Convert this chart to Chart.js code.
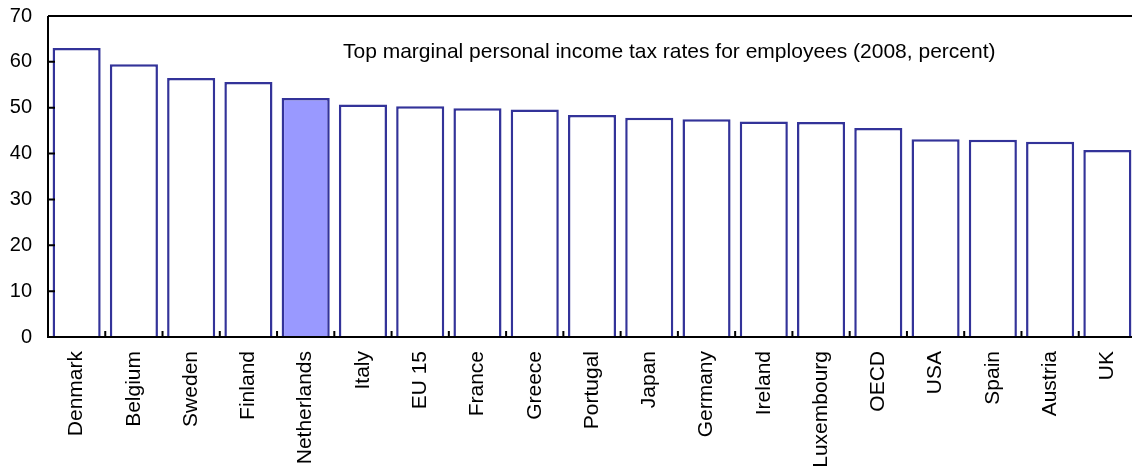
<!DOCTYPE html>
<html><head><meta charset="utf-8">
<script src="https://cdn.jsdelivr.net/npm/chart.js@4/dist/chart.umd.min.js"></script>
<style>html,body{margin:0;padding:0;background:#fff;overflow:hidden;width:1132px;height:472px}canvas{display:block}</style>
</head><body><canvas id="c" width="1136" height="472"></canvas>
<script>
const categories = ["Denmark","Belgium","Sweden","Finland","Netherlands","Italy","EU 15","France","Greece","Portugal","Japan","Germany","Ireland","Luxembourg","OECD","USA","Spain","Austria","UK"];
const taxRates = [63.0,59.5,56.5,55.6,52.1,50.7,50.3,49.9,49.6,48.4,47.8,47.5,47.0,46.9,45.6,43.1,43.0,42.6,40.8];
const highlight = "Netherlands";
const yTicks = [0,10,20,30,40,50,60,70];
const titleText = "Top marginal personal income tax rates for employees (2008, percent)";
const FONT = "'Liberation Sans', Arial, sans-serif";

const decor = {
  id:'decor',
  afterDraw(chart){
    const ctx = chart.ctx, a = chart.chartArea, y = chart.scales.y, x = chart.scales.x;
    ctx.save();
    ctx.strokeStyle = '#000'; ctx.lineWidth = 2;
    ctx.beginPath();
    ctx.moveTo(a.left, a.top); ctx.lineTo(a.right, a.top);
    ctx.moveTo(a.left, a.top); ctx.lineTo(a.left, a.bottom);
    ctx.moveTo(a.left - 1, a.bottom); ctx.lineTo(a.right, a.bottom);
    yTicks.forEach(v => { const py = y.getPixelForValue(v); ctx.moveTo(a.left, py); ctx.lineTo(a.left + 7, py); });
    for (let i = 1; i < categories.length; i++) {
      const px = (x.getPixelForValue(i - 1) + x.getPixelForValue(i)) / 2;
      ctx.moveTo(px, a.bottom); ctx.lineTo(px, a.bottom - 6);
    }
    ctx.stroke();
    ctx.fillStyle = '#000';
    ctx.font = '21px ' + FONT;
    ctx.textAlign = 'left'; ctx.textBaseline = 'middle';
    ctx.fillText(titleText, 343, 52);
    ctx.restore();
  }
};

new Chart(document.getElementById('c'), {
  type: 'bar',
  data: {
    labels: categories,
    datasets: [{
      data: taxRates,
      backgroundColor: categories.map(c => c === highlight ? '#9999ff' : '#ffffff'),
      borderColor: '#333399',
      borderWidth: 2.5,
      barPercentage: 0.84,
      categoryPercentage: 1.0
    }]
  },
  options: {
    responsive: false, animation: false,
    layout: { padding: { top: 16, right: 0, left: 0, bottom: 0 } },
    plugins: { legend: { display: false }, tooltip: { enabled: false }, title: { display: false } },
    scales: {
      x: {
        grid: { display: false, drawTicks: false },
        border: { display: false },
        ticks: { color: '#000', font: { family: FONT, size: 21 }, maxRotation: 90, minRotation: 90, padding: 14, autoSkip: false },
        afterFit(s){ s.height = 135; s.paddingLeft = 0; s.paddingRight = 0; }
      },
      y: {
        min: 0, max: 70,
        grid: { display: false, drawTicks: false },
        border: { display: false },
        ticks: { color: '#000', font: { family: FONT, size: 20 }, stepSize: 10, padding: 16 },
        afterFit(s){ s.width = 48; s.paddingTop = 0; s.paddingBottom = 0; }
      }
    }
  },
  plugins: [decor]
});
</script></body></html>
